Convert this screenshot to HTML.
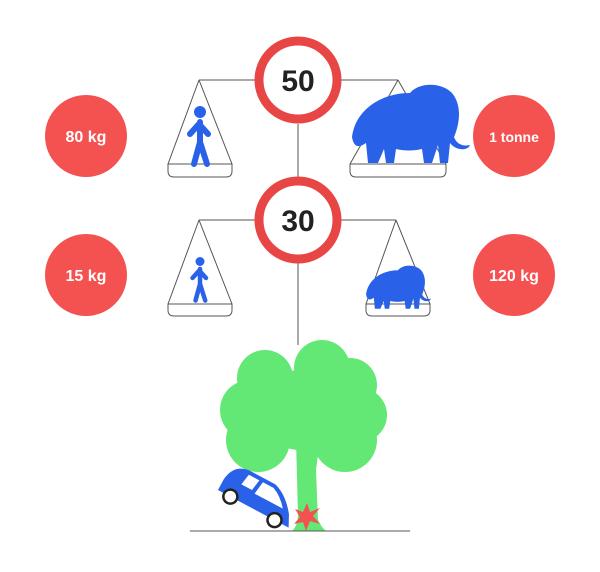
<!DOCTYPE html>
<html><head><style>body{margin:0;background:#fff}svg{display:block}</style></head><body>
<svg width="600" height="572" viewBox="0 0 600 572" xmlns="http://www.w3.org/2000/svg" font-family="Liberation Sans, sans-serif">
<defs>
<g id="person" fill="none" stroke="#2962e8" stroke-linecap="round" stroke-linejoin="round">
<circle cx="0" cy="-38" r="6" fill="#2962e8" stroke="none"/>
<path d="M0-28 L0-8 M0-8 L-6 14 M0-8 L7 14 M-10-16 L-1-26 L8-16" stroke-width="6"/>
</g>
<g id="eleph" fill="#2962e8">
<path d="M-58 8 C-55-18-30-36 0-36 C8-46 30-48 42-36 C52-24 50 -6 44 8 C46 14 52 18 60 16 C58 22 46 22 40 14 L38 34 L30 34 L28 16 L22 34 L14 34 L12 20 C4 22-6 22-14 20 L-16 34 L-24 34 L-26 20 L-32 34 L-42 34 L-44 14 C-50 18-56 20-58 8 Z"/>
</g>
</defs>
<g stroke="#555" stroke-width="1" fill="none">
<line x1="199" y1="80" x2="398" y2="80"/>
<line x1="199" y1="220" x2="396" y2="220"/>
<line x1="298" y1="124" x2="298" y2="177"/>
<line x1="298" y1="263" x2="298" y2="345"/>
<path d="M199 80 L168 164 M199 80 L232 164 M168 164 H232 V171 Q232 177 226 177 H174 Q168 177 168 171 Z"/>
<path d="M398 80 L350 164 M398 80 L446 164 M350 164 H446 V171 Q446 177 440 177 H356 Q350 177 350 171 Z"/>
<path d="M199 220 L168 304 M199 220 L232 304 M168 304 H232 V310 Q232 316 226 316 H174 Q168 316 168 310 Z"/>
<path d="M396 220 L366 304 M396 220 L430 304 M366 304 H430 V310 Q430 316 424 316 H372 Q366 316 366 310 Z"/>
</g>
<use href="#person" transform="translate(200,150)"/>
<use href="#person" transform="translate(200,290) scale(0.75)"/>
<use href="#eleph" transform="translate(410,129)"/>
<use href="#eleph" transform="translate(398,290) scale(0.55)"/>
<g stroke="#e84545" stroke-width="9" fill="#fff">
<circle cx="298" cy="80" r="39"/>
<circle cx="298" cy="220" r="39"/>
</g>
<g font-weight="bold" text-anchor="middle" fill="#222" font-size="30">
<text x="298" y="91">50</text><text x="298" y="231">30</text>
</g>
<g fill="#f45151">
<circle cx="86" cy="136" r="41"/><circle cx="514" cy="136" r="41"/>
<circle cx="86" cy="275" r="41"/><circle cx="514" cy="275" r="41"/>
</g>
<g fill="#fff" font-weight="bold" text-anchor="middle" font-size="16">
<text x="86" y="142">80 kg</text><text x="514" y="142" font-size="14">1 tonne</text>
<text x="86" y="281">15 kg</text><text x="514" y="281">120 kg</text>
</g>
<g fill="#63e876">
<circle cx="265" cy="378" r="28"/><circle cx="322" cy="368" r="28"/><circle cx="350" cy="385" r="27"/>
<circle cx="250" cy="410" r="30"/><circle cx="360" cy="415" r="27"/><circle cx="258" cy="440" r="32"/>
<circle cx="345" cy="440" r="32"/><circle cx="300" cy="410" r="40"/>
<path d="M296 440 H320 L316 470 L318 520 Q322 528 326 531 H292 Q298 525 298 515 Z"/>
</g>
<g transform="translate(258,500) rotate(28)">
<path d="M-40 -2 Q-38 -20 -22 -22 L8 -22 Q22 -18 34 -2 L40 10 L-40 10 Z" fill="#2962e8"/>
<path d="M-20 -18 L-8 -18 L-10 -6 L-22 -6 Z M-4 -18 L8 -18 Q18 -14 26 -4 L-6 -4 Z" fill="#fff"/>
<circle cx="-26" cy="10" r="7" fill="#fff" stroke="#222" stroke-width="2.5"/>
<circle cx="24" cy="10" r="7" fill="#fff" stroke="#222" stroke-width="2.5"/>
</g>
<path d="M307 503 L310 512 L320 508 L313 516 L320 524 L310 521 L306 531 L303 522 L294 524 L300 517 L295 509 L303 512 Z" fill="#f45151"/>
<line x1="190" y1="531" x2="410" y2="531" stroke="#555" stroke-width="1"/>
</svg>
</body></html>
